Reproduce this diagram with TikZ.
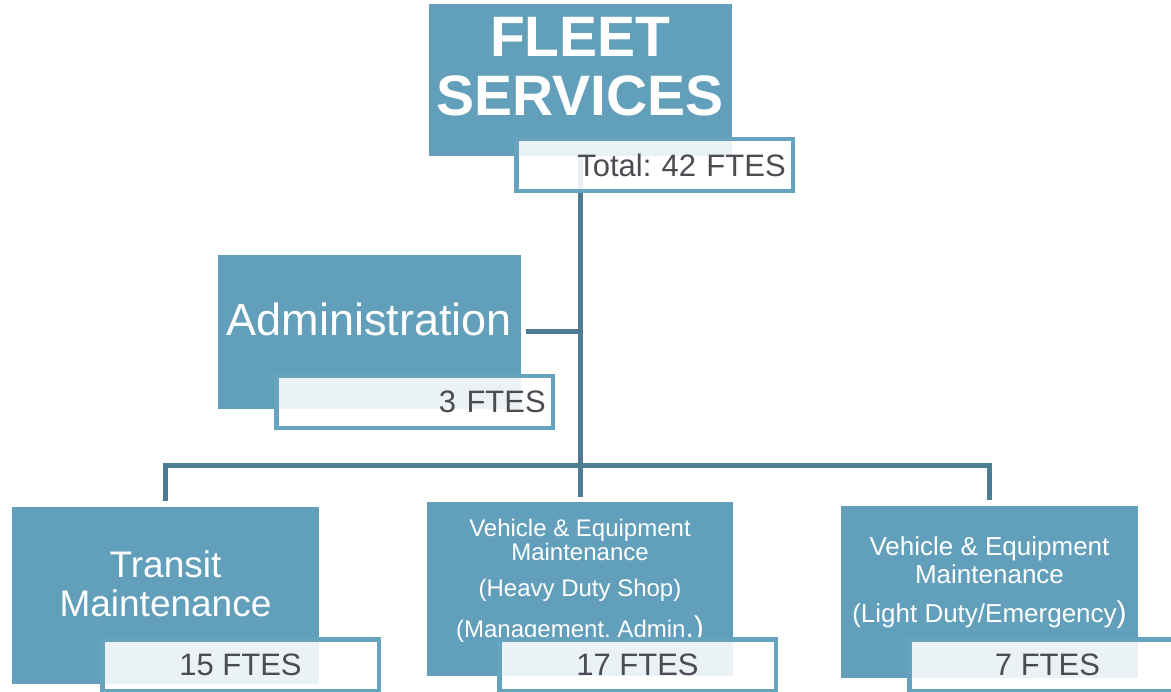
\documentclass[tikz,border=0pt]{standalone}
\usepackage{fontspec}
\setmainfont{Liberation Sans}
\frenchspacing
\definecolor{unitblue}{RGB}{98,159,186}
\definecolor{tagline}{RGB}{102,163,190}
\definecolor{linkblue}{RGB}{78,125,147}
\definecolor{tagtext}{RGB}{75,75,82}
\tikzstyle{unit}=[rectangle,fill=unitblue,inner sep=0pt,outer sep=0pt,anchor=north west]
\tikzstyle{unittext}=[inner sep=0pt,text=white,align=center]
\tikzstyle{tag}=[rectangle,draw=tagline,line width=4.5pt,fill=white,
fill opacity=0.87,text opacity=1,text=tagtext,minimum width=276.5pt,
minimum height=52pt,anchor=north west,font=\fontsize{31}{31}\selectfont]
\tikzstyle{rtag}=[tag,text width=262.5pt,align=right,inner xsep=7pt]
\tikzstyle{link}=[draw=linkblue,line width=5pt]
\usetikzlibrary{positioning,backgrounds}

\begin{document}
\begin{tikzpicture}[x=1pt,y=-1pt]
            \useasboundingbox (0,0) rectangle (1171,692);

            % FLEET PART

            \node[unit,minimum width=302.5pt,minimum height=152.5pt] (fleet) at (429,4) {};
            \node[unittext,below=13pt of fleet.north,font=\bfseries\fontsize{57}{59}\selectfont] (fleet-t) {FLEET\\SERVICES};
            \node[rtag] (fleet-n) at (514,137) {Total: 42 FTES};

            % ADMINISTRATION PART

            \node[unit,minimum width=303pt,minimum height=154pt] (admin) at (218,255) {};
            \node[unittext,below=48pt of admin.north,font=\fontsize{45}{47}\selectfont] (admin-t) {Administration};
            \node[rtag] (admin-n) at (274,374) {3 FTES};

            % TRANSIT PART

            \node[unit,minimum width=307pt,minimum height=176.5pt] (transit) at (12,507) {};
            \node[unittext,below=43pt of transit.north,font=\fontsize{37}{39}\selectfont] (transit-t) {Transit\\Maintenance};
            \node[tag] (transit-n) at (100,637) {15 FTES};

            % HEAVY DUTY PART

            \node[unit,minimum width=306pt,minimum height=173.5pt] (heavy) at (427,502.5) {};
            \node[unittext,below=16.5pt of heavy.north,font=\fontsize{24}{24}\selectfont] (heavy-t)
                {Vehicle \& Equipment\\Maintenance\\[12pt](Heavy Duty Shop)\\[13pt](Management, Admin{\fontsize{30}{30}\selectfont.)}};
            \node[tag] (heavy-n) at (497,637) {17 FTES};

            % LIGHT DUTY PART

            \node[unit,minimum width=297pt,minimum height=171pt] (light) at (841,506.5) {};
            \node[unittext,below=30pt of light.north,font=\fontsize{26}{28}\selectfont] (light-t)
                {Vehicle \& Equipment\\Maintenance\\[11pt](Light Duty/Emergency{\fontsize{30}{30}\selectfont)}};
            \node[tag] (light-n) at (907,637) {7 FTES};

            % Connections

            \coordinate (hub) at (580,466);
            \begin{scope}[on background layer]
            \draw[link,shorten >=5.5pt] (fleet.south) -- (fleet.south |- heavy.north);
            \draw[link,shorten <=6pt,shorten >=6pt] (transit.north) -- (hub -| transit.north) -- (hub -| light.north) -- (light.north);
            \draw[link,shorten <=5pt] (admin.east) -- (admin.east -| fleet.south);
            \end{scope}

        \end{tikzpicture}
\end{document}
